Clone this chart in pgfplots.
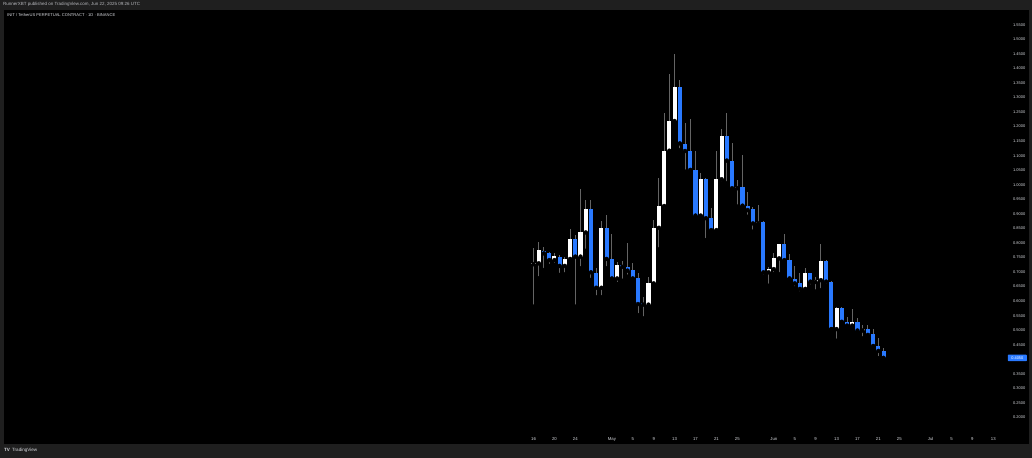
\documentclass[border=0pt]{standalone}
\usepackage{pgfplots}
\pgfplotsset{compat=1.18}
\usepackage{pgfplotstable}
\usepackage{fontspec}
\setmainfont{Liberation Sans}
\definecolor{framegray}{RGB}{31,31,31}
\definecolor{tvblue}{RGB}{41,121,255}
\definecolor{wick}{RGB}{100,100,100}
\definecolor{txt}{RGB}{215,217,222}

% day index d: 0 = 16 Apr 2025 ... 67 = 22 Jun 2025
\pgfplotstableread{
d o h l c
0 0.727 0.781 0.581 0.731
1 0.730 0.804 0.678 0.776
4 0.741 0.767 0.724 0.755
6 0.721 0.753 0.692 0.745
7 0.745 0.848 0.736 0.812
9 0.753 0.984 0.713 0.836
10 0.836 0.948 0.773 0.915
13 0.646 0.877 0.613 0.850
16 0.678 0.736 0.659 0.724
22 0.588 0.684 0.575 0.661
23 0.661 0.879 0.652 0.852
24 0.852 1.022 0.778 0.927
25 0.927 1.245 0.913 1.117
26 1.117 1.379 1.106 1.219
27 1.219 1.449 1.211 1.337
32 0.894 1.039 0.890 1.020
35 0.844 1.116 0.839 1.019
36 1.019 1.190 1.005 1.169
39 0.988 1.015 0.925 0.993
43 0.867 0.930 0.856 0.873
45 0.699 0.718 0.653 0.710
46 0.710 0.764 0.693 0.747
47 0.747 0.797 0.693 0.795
52 0.642 0.713 0.638 0.696
54 0.666 0.684 0.633 0.672
55 0.672 0.795 0.638 0.739
58 0.504 0.580 0.464 0.578
61 0.516 0.572 0.512 0.530
63 0.499 0.518 0.472 0.504
}\upcandles

\pgfplotstableread{
d o h l c
2 0.773 0.787 0.707 0.764
3 0.764 0.770 0.721 0.741
5 0.753 0.759 0.690 0.721
8 0.812 0.827 0.581 0.753
11 0.915 0.948 0.673 0.699
12 0.698 0.713 0.613 0.646
14 0.850 0.896 0.713 0.745
15 0.745 0.831 0.670 0.678
17 0.724 0.737 0.670 0.718
18 0.718 0.799 0.684 0.705
19 0.707 0.730 0.673 0.678
20 0.681 0.696 0.552 0.590
21 0.592 0.615 0.541 0.588
28 1.337 1.360 1.119 1.142
29 1.140 1.211 1.045 1.116
30 1.116 1.225 1.039 1.051
31 1.051 1.116 0.890 0.894
33 1.020 1.022 0.810 0.885
34 0.885 0.919 0.831 0.844
37 1.169 1.245 1.005 1.083
38 1.083 1.145 0.976 0.988
40 0.993 1.102 0.925 0.928
41 0.928 0.976 0.890 0.913
42 0.915 0.925 0.839 0.867
44 0.873 0.875 0.684 0.699
48 0.795 0.831 0.736 0.741
49 0.741 0.761 0.675 0.678
50 0.676 0.722 0.644 0.661
51 0.661 0.696 0.627 0.642
53 0.696 0.698 0.650 0.667
56 0.739 0.741 0.653 0.667
57 0.667 0.668 0.503 0.504
59 0.578 0.580 0.524 0.529
60 0.529 0.547 0.512 0.516
62 0.530 0.541 0.489 0.499
64 0.503 0.518 0.478 0.484
65 0.486 0.503 0.438 0.446
66 0.446 0.472 0.404 0.429
67 0.429 0.438 0.400 0.405
}\downcandles

\begin{document}
\begin{tikzpicture}
\fill[framegray] (0,0) rectangle (1032bp,458bp);
\fill[black] (4bp,14bp) rectangle (1029bp,448bp);
\node[anchor=west, inner sep=0pt, text=txt!85!black, font=\fontsize{4.5}{5}\selectfont] at (3bp,453.6bp) {RunnerXBT published on TradingView.com, Jun 22, 2025 09:26 UTC};
\node[anchor=west, inner sep=0pt, text=txt, font=\fontsize{4.1}{5}\selectfont] at (7bp,442.6bp) {INIT / TetherUS PERPETUAL CONTRACT · 1D · BINANCE};
\node[anchor=west, inner sep=0pt, text=txt, font=\fontsize{4.6}{5}\selectfont] at (4bp,7.6bp) {\textbf{TV}\hspace{2bp}TradingView};
\begin{axis}[
  at={(4bp,28bp)}, anchor=south west,
  scale only axis, width=996bp, height=420bp,
  xmin=-101.34, xmax=89.28, ymin=0.1572, ymax=1.6005,
  axis line style={draw=none},
  major tick length=0pt, tick style={draw=none},
  clip=false,
  xtick={0,4,8,15,19,23,27,31,35,39,46,50,54,58,62,66,70,76,80,84,88},
  xticklabels={16,20,24,May,5,9,13,17,21,25,Jun,5,9,13,17,21,25,Jul,5,9,13},
  xticklabel style={anchor=center, yshift=-9.3bp, inner sep=0pt, text=txt, font=\fontsize{4.3}{5}\selectfont},
  ytick={0.20,0.25,0.30,0.35,0.45,0.50,0.55,0.60,0.65,0.70,0.75,0.80,0.85,0.90,0.95,1.00,1.05,1.10,1.15,1.20,1.25,1.30,1.35,1.40,1.45,1.50,1.55},
  yticklabels={0.2000,0.2500,0.3000,0.3500,0.4500,0.5000,0.5500,0.6000,0.6500,0.7000,0.7500,0.8000,0.8500,0.9000,0.9500,1.0000,1.0500,1.1000,1.1500,1.2000,1.2500,1.3000,1.3500,1.4000,1.4500,1.5000,1.5500},
  yticklabel pos=right,
  yticklabel style={anchor=east, xshift=25.5bp, inner sep=0pt, text=txt, font=\fontsize{4.0}{4.5}\selectfont},
]
% wicks
\addplot[only marks, mark=none, error bars/.cd, y dir=plus, y explicit, error mark=none,
  error bar style={line width=1bp, color=wick, solid}]
  table[x=d, y=l, y error plus expr=\thisrow{h}-\thisrow{l}] {\upcandles};
\addplot[only marks, mark=none, error bars/.cd, y dir=plus, y explicit, error mark=none,
  error bar style={line width=1bp, color=wick, solid}]
  table[x=d, y=l, y error plus expr=\thisrow{h}-\thisrow{l}] {\downcandles};
% bodies
\addplot[only marks, mark=none, error bars/.cd, y dir=plus, y explicit, error mark=none,
  error bar style={line width=4.1bp, color=white, solid}]
  table[x=d, y=o, y error plus expr={max(\thisrow{c}-\thisrow{o},0.004)}] {\upcandles};
\addplot[only marks, mark=none, error bars/.cd, y dir=plus, y explicit, error mark=none,
  error bar style={line width=4.1bp, color=tvblue, solid}]
  table[x=d, y=c, y error plus expr={max(\thisrow{o}-\thisrow{c},0.004)}] {\downcandles};
% last price label
\node[fill=tvblue, rounded corners=0.8bp, anchor=east, inner sep=0pt, minimum width=19bp, minimum height=6.7bp, text=white, font=\fontsize{3.9}{4.5}\selectfont, xshift=27bp] at (axis cs:89.28,0.405) {0.4050};
\end{axis}
\pgfresetboundingbox
\useasboundingbox (0,0) rectangle (1032bp,458bp);
\end{tikzpicture}
\end{document}
